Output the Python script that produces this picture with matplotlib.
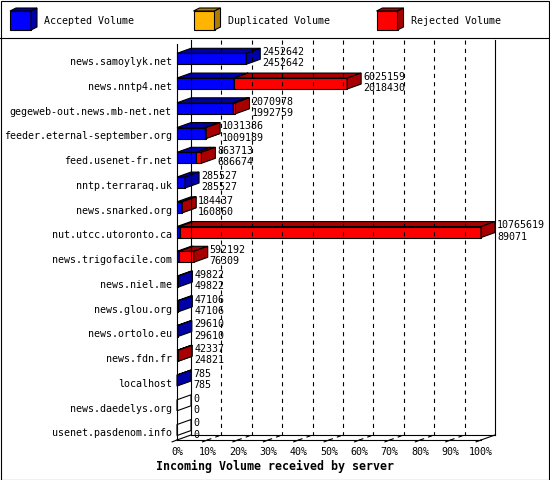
import matplotlib
matplotlib.use("Agg")
import matplotlib.pyplot as plt
from matplotlib.patches import Polygon, Rectangle
from matplotlib.lines import Line2D

plt.rcParams['font.family'] = ['DejaVu Sans Mono']
plt.rcParams['lines.scale_dashes'] = False

servers = ["news.samoylyk.net", "news.nntp4.net", "gegeweb-out.news.mb-net.net",
           "feeder.eternal-september.org", "feed.usenet-fr.net", "nntp.terraraq.uk",
           "news.snarked.org", "nut.utcc.utoronto.ca", "news.trigofacile.com",
           "news.niel.me", "news.glou.org", "news.ortolo.eu", "news.fdn.fr",
           "localhost", "news.daedelys.org", "usenet.pasdenom.info"]
total = [2452642, 6025159, 2070978, 1031386, 863713, 285527, 184437, 10765619,
         592192, 49822, 47106, 29610, 42337, 785, 0, 0]
accepted = [2452642, 2018430, 1992759, 1009189, 686674, 285527, 160860, 89071,
            76309, 49822, 47106, 29610, 24821, 785, 0, 0]
duplicated = [0] * 16
ticks = [0, 10, 20, 30, 40, 50, 60, 70, 80, 90, 100]

series_names = ["Accepted Volume", "Duplicated Volume", "Rejected Volume"]
front_cols = ["#0000ff", "#ffb400", "#ff0000"]
dark_cols = ["#0000a8", "#b07c00", "#a80000"]

W, H = 550, 480
fig = plt.figure(figsize=(W / 100, H / 100), dpi=100)

# pixel layout of the front plane
X0, X1 = 177, 481
Y0, Y1 = 44, 440
nrow = len(servers)
sx = (X1 - X0) / 100.0
sy = (Y1 - Y0) / nrow
DX = 14 / sx
DY = 5 / sy

ax = fig.add_axes([0, 0, 1, 1])
ax.set_xlim(-X0 / sx, (W - X0) / sx)
ax.set_ylim((H - Y0) / sy, -Y0 / sy)
ax.axis('off')

lw = 0.8
vmax = max(total)


def pct(v):
    return v / vmax * 100.0


# back wall grid
top_b = -0.18
bot_b = nrow - DY
for t in ticks[1:-1]:
    ax.add_line(Line2D([t + DX, t + DX], [top_b, bot_b], color='black', lw=lw,
                       dashes=(3, 3)))
    ax.add_line(Line2D([t, t + DX], [nrow, bot_b], color='black', lw=lw,
                       dashes=(3, 3)))
ax.add_line(Line2D([100 + DX, 100 + DX], [top_b, bot_b], color='black', lw=lw))
ax.add_line(Line2D([DX, DX], [top_b, bot_b], color='black', lw=lw))
ax.add_line(Line2D([0, 0], [-0.02, nrow], color='black', lw=lw))
# floor
ax.add_line(Line2D([0, 100], [nrow, nrow], color='black', lw=lw))
ax.add_line(Line2D([DX, 100 + DX], [bot_b, bot_b], color='black', lw=lw))
ax.add_line(Line2D([100, 100 + DX], [nrow, bot_b], color='black', lw=lw))
ax.add_line(Line2D([0, DX], [nrow, bot_b], color='black', lw=lw))
for t in ticks:
    ax.add_line(Line2D([t, t - 1.6], [nrow, nrow + 0.075], color='black', lw=lw))
    ax.text(t, nrow + 0.59, "%d%%" % t, ha='center', va='baseline', fontsize=7.2)


def block(x0, x1, ft, fb, fc, dc):
    front = [(x0, ft), (x1, ft), (x1, fb), (x0, fb)]
    top = [(x0, ft), (x0 + DX, ft - DY), (x1 + DX, ft - DY), (x1, ft)]
    side = [(x1, ft), (x1 + DX, ft - DY), (x1 + DX, fb - DY), (x1, fb)]
    for pts, c in ((front, fc), (top, dc), (side, dc)):
        ax.add_patch(Polygon(pts, closed=True, facecolor=c, edgecolor='black',
                             lw=lw, joinstyle='miter'))


for i, name in enumerate(servers):
    ft = i + 0.376
    fb = ft + 0.444
    acc = accepted[i]
    dup = duplicated[i]
    rej = total[i] - acc - dup
    if total[i] == 0:
        ax.add_patch(Polygon([(0, ft), (DX, ft - DY), (DX, fb - DY), (0, fb)],
                             closed=True, facecolor='white', edgecolor='black', lw=lw))
    start = 0
    for k, v in enumerate([acc, dup, rej]):
        if v > 0:
            block(pct(start), pct(start + v), ft, fb, front_cols[k], dark_cols[k])
        start += v
    ax.text(-1.7, fb + 0.03, name, ha='right', va='baseline', fontsize=7.2)
    xt = pct(total[i]) + DX + 0.66
    ax.text(xt, fb - 0.37, str(total[i]), ha='left', va='baseline', fontsize=7.2)
    ax.text(xt, fb + 0.08, str(acc), ha='left', va='baseline', fontsize=7.2)

fig.text(0.5, 1 - 470 / H, "Incoming Volume received by server", ha='center',
         va='baseline', fontsize=8.4, fontweight='bold')

# legend strip
lax = fig.add_axes([0, 1 - 37 / H, 1, 37 / H])
lax.set_xlim(0, W)
lax.set_ylim(37, 0)
lax.axis('off')
for k, name in enumerate(series_names):
    x = [10, 193.5, 376.5][k]
    tx = [44.5, 228, 411][k]
    lax.add_patch(Polygon([(x, 11), (x + 21, 11), (x + 21, 30), (x, 30)], closed=True,
                          facecolor=front_cols[k], edgecolor='black', lw=lw))
    lax.add_patch(Polygon([(x, 11), (x + 6, 8), (x + 27, 8), (x + 21, 11)], closed=True,
                          facecolor=dark_cols[k], edgecolor='black', lw=lw))
    lax.add_patch(Polygon([(x + 21, 11), (x + 27, 8), (x + 27, 27), (x + 21, 30)],
                          closed=True, facecolor=dark_cols[k], edgecolor='black', lw=lw))
    lax.text(tx, 21, name, ha='left', va='center', fontsize=7.2)

fig.add_artist(Line2D([0, 1], [1 - 37.5 / H, 1 - 37.5 / H], color='black', lw=lw,
                      transform=fig.transFigure))
fig.add_artist(Rectangle((0.5 / W, 0.5 / H), 1 - 1.5 / W, 1 - 1.5 / H, fill=False,
                         edgecolor='black', lw=lw, transform=fig.transFigure))

fig.savefig("out.png", dpi=100)
